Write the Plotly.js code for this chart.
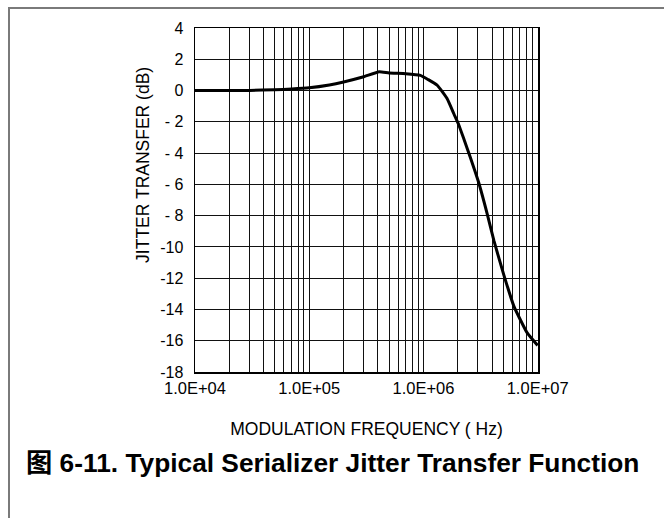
<!DOCTYPE html>
<html>
<head>
<meta charset="utf-8">
<script src="https://cdn.plot.ly/plotly-3.0.1.min.js"></script>
<style>
html,body{margin:0;padding:0;background:#fff;}
#wrap{position:relative;width:664px;height:518px;overflow:hidden;}
#chart{position:absolute;left:0;top:0;width:664px;height:518px;}
#frame{position:absolute;left:8px;top:7px;width:700px;height:600px;border-top:2px solid #7a7a7a;border-left:2px solid #7a7a7a;pointer-events:none;}
</style>
</head>
<body>
<div id="wrap"><div id="chart"></div><div id="frame"></div></div>
<script>
// Data
const freqHz = [1e4, 2e4, 3e4, 5e4, 7e4, 1e5, 1.5e5, 2e5, 3e5, 4.1e5, 5e5, 7e5, 9.4e5, 1.1e6, 1.32e6, 1.61e6, 1.85e6, 2.04e6, 2.26e6, 2.58e6, 3.05e6, 3.62e6, 4.14e6, 5.06e6, 6.2e6, 8.1e6, 1e7];
const jitterDb = [0, 0, 0.01, 0.05, 0.1, 0.18, 0.36, 0.55, 0.88, 1.2, 1.12, 1.08, 0.97, 0.7, 0.34, -0.51, -1.5, -2.2, -3.1, -4.3, -5.9, -7.9, -9.6, -11.8, -13.8, -15.5, -16.3];

const xDecades = [1e4, 1e5, 1e6, 1e7];
const xDecadeLabels = ["1.0E+04", "1.0E+05", "1.0E+06", "1.0E+07"];
const yTickVals = [4, 2, 0, -2, -4, -6, -8, -10, -12, -14, -16, -18];
const yTickText = ["4", "2", "0", "- 2", "- 4", "- 6", "- 8", "-10", "-12", "-14", "-16", "-18"];
const xTitle = "MODULATION FREQUENCY ( Hz)";
const yTitle = "JITTER TRANSFER (dB)";
const caption = "图 6-11. Typical Serializer Jitter Transfer Function";

// build grid tick values (1..9 per decade)
const xGridVals = [];
const xGridText = [];
for (let d = 0; d < xDecades.length; d++) {
  const base = xDecades[d];
  const maxM = (d === xDecades.length - 1) ? 1 : 9;
  for (let m = 1; m <= maxM; m++) {
    xGridVals.push(base * m);
    xGridText.push(m === 1 ? xDecadeLabels[d] : "");
  }
}

const font = "Liberation Sans, Arial, sans-serif";

const trace = {
  x: freqHz, y: jitterDb, type: "scatter", mode: "lines",
  line: {color: "#000", width: 3, shape: "spline", smoothing: 0.4},
  hoverinfo: "skip", showlegend: false
};

const layout = {
  width: 664, height: 518,
  margin: {l: 195, r: 126, t: 28, b: 146},
  paper_bgcolor: "#fff", plot_bgcolor: "#fff",
  font: {family: font, color: "#000", size: 16},
  xaxis: {
    type: "log", range: [4, 7.003],
    tickvals: xGridVals, ticktext: xGridText,
    showgrid: true, gridcolor: "#111", gridwidth: 1,
    ticks: "", ticklabelstandoff: 1,
    showline: true, linecolor: "#000", linewidth: 1.5, mirror: true,
    zeroline: false, tickangle: 0,
    tickfont: {family: font, size: 16.5, color: "#000"},
    title: {text: xTitle, font: {family: font, size: 17.5, color: "#000"}, standoff: 26}
  },
  yaxis: {
    range: [-18, 4],
    tickvals: yTickVals, ticktext: yTickText,
    showgrid: true, gridcolor: "#111", gridwidth: 1,
    ticks: "", ticklabelstandoff: 7,
    showline: true, linecolor: "#000", linewidth: 1.5, mirror: true,
    zeroline: false,
    tickfont: {family: font, size: 16, color: "#000"}
  },
  annotations: [
    {
      text: yTitle, textangle: -90,
      xref: "paper", yref: "paper", x: 0, y: 0.602, xanchor: "center", yanchor: "middle",
      xshift: -52, showarrow: false,
      font: {family: font, size: 17.5, color: "#000"}
    },
    {
      text: "<b>" + caption + "</b>",
      xref: "paper", yref: "paper", x: 0.5, y: 0, xanchor: "center", yanchor: "middle",
      yshift: -91, xshift: -34, showarrow: false,
      font: {family: "Liberation Sans, Noto Sans CJK SC, sans-serif", size: 26.3, color: "#000"}
    }
  ]
};

Plotly.newPlot("chart", [trace], layout, {staticPlot: true, displayModeBar: false});
</script>
</body>
</html>
